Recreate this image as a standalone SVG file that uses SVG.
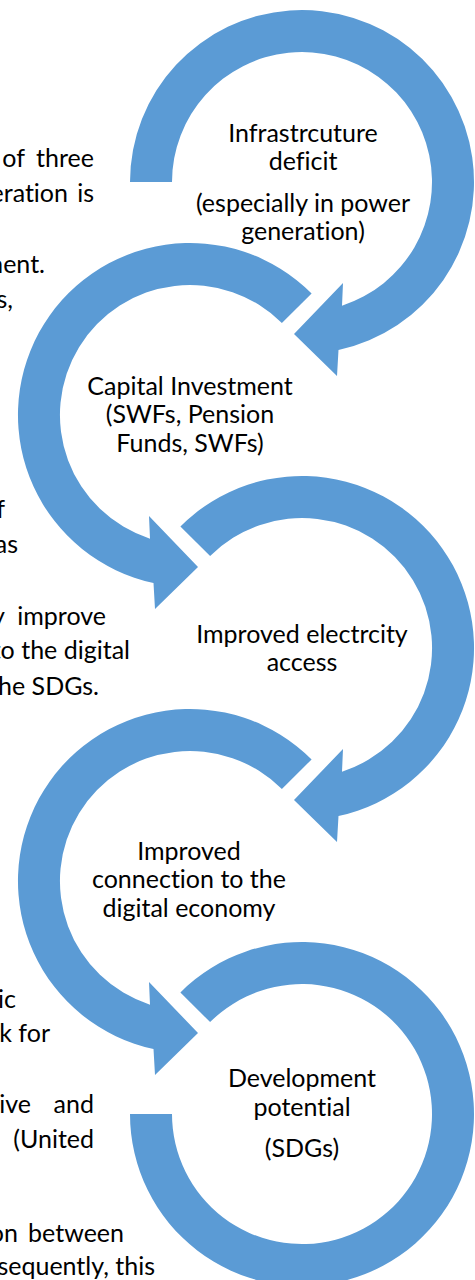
<svg xmlns="http://www.w3.org/2000/svg" width="475" height="1280" viewBox="0 0 475 1280">
  <style>
    .ring { fill: #5B9BD5; }
    .label { font-family: Lato, "Open Sans", sans-serif; font-size: 25px; fill: #000; text-anchor: middle; font-variant-ligatures: none; }
    .body { font-family: Lato, "Open Sans", sans-serif; font-size: 25px; fill: #000; font-variant-ligatures: none; }
    .end { text-anchor: end; }
  </style>
  <rect width="475" height="1280" fill="#fff"/>

  <!-- body text running beside the cycle -->
  <g id="body-text">
    <text class="body end" x="25" y="167">of</text>
    <text class="body end" x="94" y="167">three</text>
    <text class="body end" x="68" y="202">eration</text>
    <text class="body end" x="94" y="202">is</text>
    <text class="body end" x="45" y="273">ment.</text>
    <text class="body end" x="13" y="308">s,</text>
    <text class="body end" x="5" y="518">f</text>
    <text class="body end" x="18" y="553">as</text>
    <text class="body end" x="5" y="625">y</text>
    <text class="body end" x="106" y="625">improve</text>
    <text class="body end" x="130" y="659">to the digital</text>
    <text class="body end" x="99" y="695">the SDGs.</text>
    <text class="body end" x="16" y="1008">ic</text>
    <text class="body end" x="50" y="1042">k for</text>
    <text class="body end" x="31" y="1113">ive</text>
    <text class="body end" x="94" y="1113">and</text>
    <text class="body end" x="94" y="1148">(United</text>
    <text class="body end" x="18" y="1242">on</text>
    <text class="body end" x="124" y="1242">between</text>
    <text class="body end" x="155" y="1275">sequently, this</text>
  </g>

  <!-- circular arrows linking the stages -->
  <g id="connectors">
    <path class="ring" d="M130 182 A172 172 0 1 1 338.5 350.1 L337 376 L294 334 L343 283 L342 305.7 A130 130 0 1 0 172 182 Z"/>
    <path class="ring" d="M311.6 293.4 A172 172 0 1 0 153.5 583.1 L155 609 L198 567 L149 516 L150 538.7 A130 130 0 1 1 281.9 323.1 Z"/>
    <path class="ring" d="M180.4 526.4 A172 172 0 1 1 338.5 816.1 L337 842 L294 800 L343 749 L342 771.7 A130 130 0 1 0 210.1 556.1 Z"/>
    <path class="ring" d="M311.6 759.4 A172 172 0 1 0 153.5 1049.1 L155 1075 L198 1033 L149 982 L150 1004.7 A130 130 0 1 1 281.9 789.1 Z"/>
    <path class="ring" d="M180.4 992.4 A172 172 0 1 1 130 1114 L172 1114 A130 130 0 1 0 210.1 1022.1 Z"/>
  </g>

  <g id="node-infrastructure">
    <text class="label" x="303" y="142">Infrastrcuture</text>
    <text class="label" x="303" y="170">deficit</text>
    <text class="label" x="303" y="212">(especially in power</text>
    <text class="label" x="303" y="240">generation)</text>
  </g>
  <g id="node-capital">
    <text class="label" x="190" y="395">Capital Investment</text>
    <text class="label" x="190" y="423">(SWFs, Pension</text>
    <text class="label" x="190" y="452">Funds, SWFs)</text>
  </g>
  <g id="node-electricity">
    <text class="label" x="302" y="643">Improved electrcity</text>
    <text class="label" x="302" y="671">access</text>
  </g>
  <g id="node-digital">
    <text class="label" x="189" y="860">Improved</text>
    <text class="label" x="189" y="888">connection to the</text>
    <text class="label" x="189" y="917">digital economy</text>
  </g>
  <g id="node-development">
    <text class="label" x="302" y="1087">Development</text>
    <text class="label" x="302" y="1116">potential</text>
    <text class="label" x="302" y="1157">(SDGs)</text>
  </g>
</svg>
